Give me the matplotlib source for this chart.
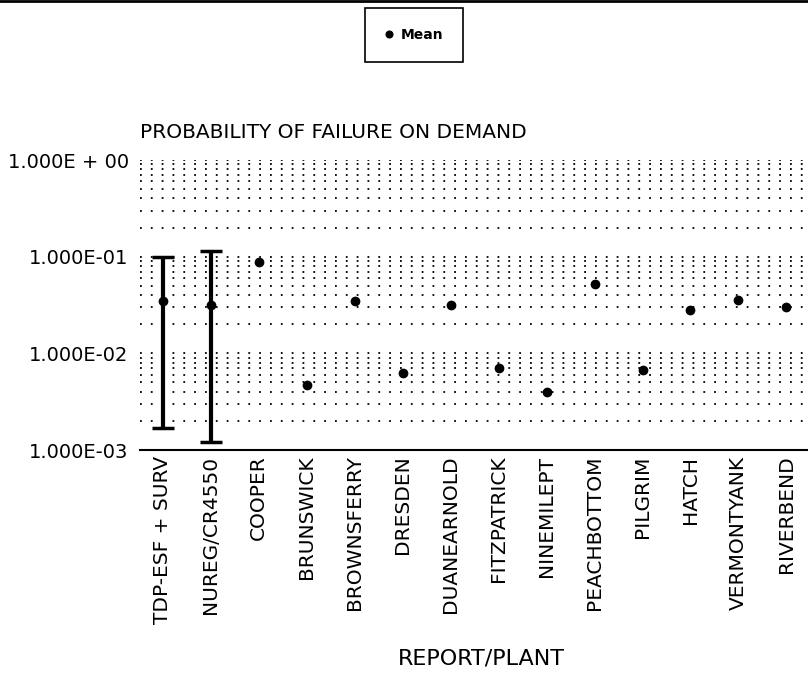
import numpy as np
import matplotlib
matplotlib.use("Agg")
import matplotlib.pyplot as plt
from matplotlib.ticker import LogLocator, FixedLocator, NullFormatter

plt.rcParams['font.family'] = ['DejaVu Sans']

# data
plants = ['TDP-ESF + SURV', 'NUREG/CR4550', 'COOPER', 'BRUNSWICK', 'BROWNSFERRY',
          'DRESDEN', 'DUANEARNOLD', 'FITZPATRICK', 'NINEMILEPT', 'PEACHBOTTOM',
          'PILGRIM', 'HATCH', 'VERMONTYANK', 'RIVERBEND']
means = [0.035, 0.032, 0.088, 0.0047, 0.035, 0.0062, 0.032, 0.0071, 0.0040,
         0.052, 0.0068, 0.028, 0.036, 0.030]
# error bars only for the two reports
err_idx = [0, 1]
err_low = [0.0017, 0.0012]
err_high = [0.10, 0.115]

ytick_vals = [1e-3, 1e-2, 1e-1, 1e0]
ytick_labels = ['1.000E-03', '1.000E-02', '1.000E-01', '1.000E + 00']

fig = plt.figure(figsize=(8.08, 6.74), dpi=100)
ax = fig.add_axes([0.173, 0.3323, 0.827, 0.4303])

x = np.arange(len(plants))
ax.set_yscale('log')
ax.set_ylim(1e-3, 1.0)
ax.set_xlim(-0.48, 13.45)

# error bars
for i, lo, hi in zip(err_idx, err_low, err_high):
    m = means[i]
    ax.errorbar([i], [m], yerr=[[m - lo], [hi - m]], fmt='none', ecolor='black',
                elinewidth=3, capsize=8, capthick=2.5, zorder=3)

ax.plot(x, means, 'o', color='black', markersize=6, zorder=4, label='Mean')

# dotted grid on every minor decade step
ax.yaxis.set_major_locator(FixedLocator(ytick_vals))
ax.set_yticklabels(ytick_labels)
ax.yaxis.set_minor_locator(LogLocator(base=10, subs=np.arange(2, 10)))
ax.yaxis.set_minor_formatter(NullFormatter())
ax.grid(True, which='both', axis='y', color='black', linewidth=1.3,
        linestyle=(0, (1, 5)))
ax.tick_params(axis='y', which='both', length=0, labelsize=14, pad=8)
ax.tick_params(axis='x', length=0, labelsize=14.5, pad=4)

ax.set_xticks(x)
ax.set_xticklabels(plants, rotation=90)

for s in ['top', 'right', 'left']:
    ax.spines[s].set_visible(False)
ax.spines['bottom'].set_linewidth(1.5)

ax.set_title('PROBABILITY OF FAILURE ON DEMAND', loc='left', fontsize=14.5, pad=16, x=0.0)
fig.text(481 / 808, 1 - 658 / 674, 'REPORT/PLANT', fontsize=16, ha='center', va='center')

leg = fig.legend(loc='upper left', bbox_to_anchor=(0.4517, 0.988), handletextpad=0.5,
                 handlelength=0.6, markerscale=0.8, fancybox=False, edgecolor='black',
                 framealpha=1, prop={'weight': 'bold', 'size': 10}, borderpad=1.45,
                 borderaxespad=0)
leg.get_frame().set_linewidth(1.2)

# scan border line at top
fig.add_artist(plt.Line2D([0, 1], [0.998, 0.998], color='black', linewidth=2,
                          transform=fig.transFigure))

fig.savefig('out.png', dpi=100)
